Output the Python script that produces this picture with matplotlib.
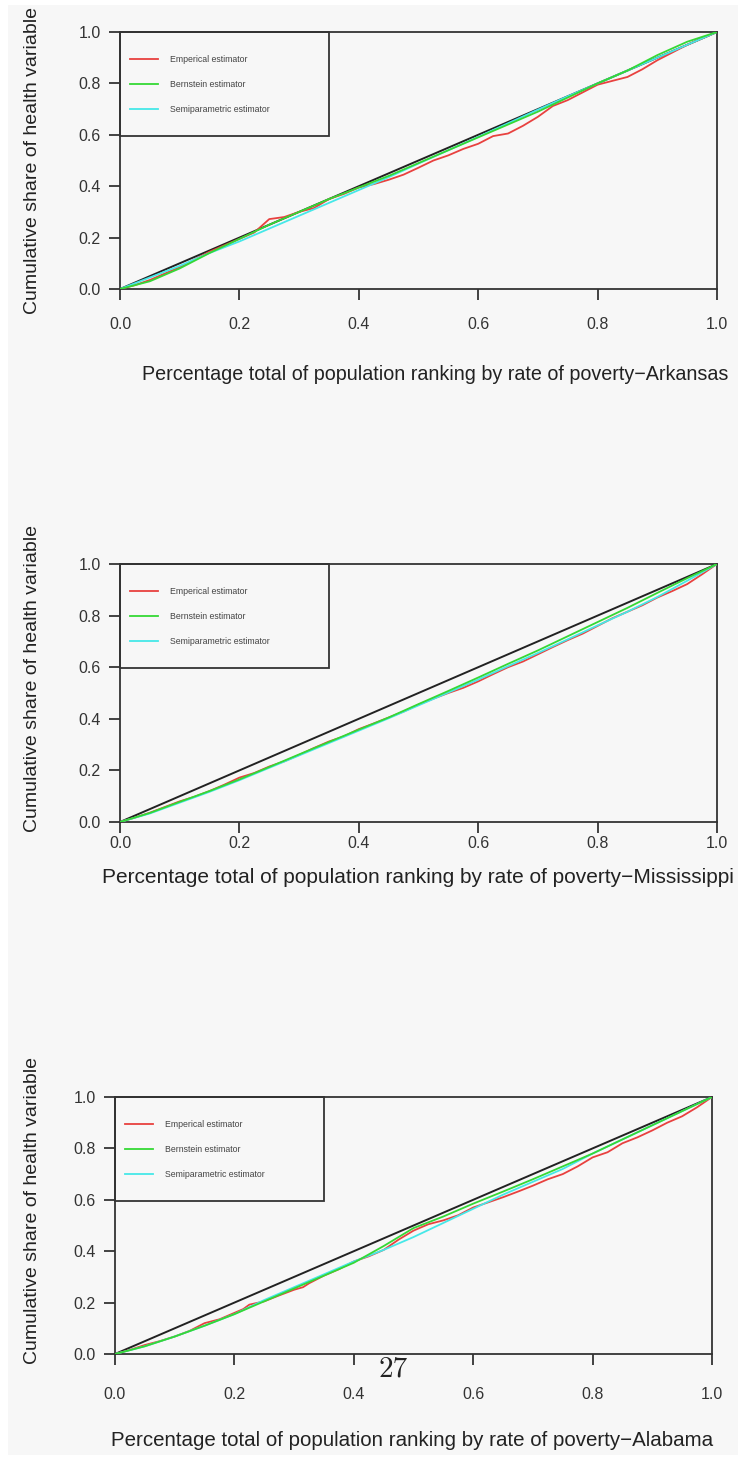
import matplotlib
matplotlib.use("Agg")
import matplotlib.pyplot as plt
from matplotlib.patches import Rectangle

plt.rcParams['font.family'] = ['Liberation Sans', 'DejaVu Sans']

# ---------------- data ----------------
x_grid = [0, 0.05, 0.1, 0.15, 0.2, 0.25, 0.3, 0.35, 0.4, 0.45, 0.5,
          0.55, 0.6, 0.65, 0.7, 0.75, 0.8, 0.85, 0.9, 0.95, 1.0]

# Arkansas
ark_emp_x = [0, 0.025, 0.05, 0.075, 0.1, 0.125, 0.15, 0.175, 0.2, 0.225, 0.25, 0.275,
             0.3, 0.325, 0.35, 0.375, 0.4, 0.425, 0.45, 0.475, 0.5, 0.525, 0.55, 0.575,
             0.6, 0.625, 0.65, 0.675, 0.7, 0.725, 0.75, 0.775, 0.8, 0.825, 0.85, 0.875,
             0.9, 0.925, 0.95, 0.975, 1.0]
ark_emp = [0, 0.015, 0.035, 0.06, 0.085, 0.115, 0.145, 0.17, 0.195, 0.22, 0.272, 0.28,
           0.3, 0.315, 0.35, 0.37, 0.395, 0.408, 0.425, 0.445, 0.472, 0.5, 0.52, 0.545,
           0.565, 0.595, 0.605, 0.635, 0.67, 0.712, 0.735, 0.765, 0.795, 0.81, 0.825, 0.855,
           0.89, 0.92, 0.95, 0.975, 1.0]
ark_bern = [0, 0.03, 0.08, 0.14, 0.195, 0.25, 0.30, 0.35, 0.395, 0.44, 0.49,
            0.54, 0.59, 0.64, 0.69, 0.745, 0.80, 0.85, 0.91, 0.962, 1.0]
ark_semi = [0, 0.045, 0.09, 0.14, 0.185, 0.235, 0.285, 0.335, 0.385, 0.435, 0.488,
            0.54, 0.592, 0.645, 0.698, 0.75, 0.80, 0.85, 0.90, 0.95, 1.0]

# Mississippi
mis_emp_x = [0, 0.025, 0.05, 0.075, 0.1, 0.125, 0.15, 0.175, 0.2, 0.225, 0.25, 0.275,
             0.3, 0.325, 0.35, 0.375, 0.4, 0.425, 0.45, 0.475, 0.5, 0.525, 0.55, 0.575,
             0.6, 0.625, 0.65, 0.675, 0.7, 0.725, 0.75, 0.775, 0.8, 0.825, 0.85, 0.875,
             0.9, 0.925, 0.95, 0.975, 1.0]
mis_emp = [0, 0.017, 0.036, 0.058, 0.08, 0.098, 0.12, 0.145, 0.172, 0.19, 0.215, 0.235,
           0.26, 0.287, 0.312, 0.332, 0.36, 0.382, 0.405, 0.428, 0.455, 0.478, 0.5, 0.52,
           0.545, 0.573, 0.6, 0.622, 0.65, 0.678, 0.705, 0.73, 0.76, 0.79, 0.815, 0.84,
           0.87, 0.895, 0.922, 0.96, 1.0]
mis_bern = [0, 0.035, 0.078, 0.12, 0.165, 0.213, 0.262, 0.31, 0.358, 0.405, 0.457,
            0.508, 0.56, 0.613, 0.665, 0.72, 0.775, 0.83, 0.888, 0.945, 1.0]
mis_semi = [0, 0.033, 0.075, 0.117, 0.162, 0.21, 0.258, 0.306, 0.354, 0.402, 0.452,
            0.502, 0.552, 0.604, 0.655, 0.708, 0.762, 0.815, 0.872, 0.935, 1.0]

# Alabama
ala_emp_x = [0, 0.025, 0.05, 0.075, 0.1, 0.125, 0.15, 0.175, 0.2, 0.215, 0.225, 0.25, 0.275,
             0.3, 0.315, 0.325, 0.35, 0.375, 0.4, 0.425, 0.45, 0.475, 0.5, 0.525, 0.55, 0.575,
             0.6, 0.625, 0.65, 0.675, 0.7, 0.725, 0.75, 0.775, 0.8, 0.825, 0.85, 0.875,
             0.9, 0.925, 0.95, 0.975, 1.0]
ala_emp = [0, 0.016, 0.035, 0.05, 0.068, 0.09, 0.12, 0.135, 0.16, 0.175, 0.192, 0.205, 0.228,
           0.25, 0.26, 0.275, 0.305, 0.33, 0.36, 0.38, 0.405, 0.445, 0.48, 0.505, 0.52, 0.54,
           0.57, 0.59, 0.61, 0.632, 0.655, 0.68, 0.70, 0.73, 0.765, 0.785, 0.82, 0.843,
           0.87, 0.9, 0.925, 0.96, 1.0]
ala_bern = [0, 0.03, 0.068, 0.11, 0.155, 0.205, 0.255, 0.305, 0.355, 0.42, 0.49,
            0.535, 0.585, 0.632, 0.68, 0.73, 0.78, 0.835, 0.89, 0.945, 1.0]
ala_semi = [0, 0.03, 0.068, 0.11, 0.155, 0.21, 0.26, 0.31, 0.36, 0.405, 0.455,
            0.51, 0.565, 0.62, 0.67, 0.72, 0.78, 0.835, 0.89, 0.945, 1.0]

equality = [0, 1]
ticks = [0.0, 0.2, 0.4, 0.6, 0.8, 1.0]
tick_labels = ["0.0", "0.2", "0.4", "0.6", "0.8", "1.0"]
legend_labels = ["Emperical estimator", "Bernstein estimator", "Semiparametric estimator"]
ylabel = "Cumulative share of health variable"
xlabels = ["Percentage total of population ranking by rate of poverty\u2212Arkansas",
           "Percentage total of population ranking by rate of poverty\u2212Mississippi",
           "Percentage total of population ranking by rate of poverty\u2212Alabama"]

panels = [
    (ark_emp_x, ark_emp, ark_bern, ark_semi),
    (mis_emp_x, mis_emp, mis_bern, mis_semi),
    (ala_emp_x, ala_emp, ala_bern, ala_semi),
]

# ---------------- layout ----------------
W, H = 738, 1462
fig = plt.figure(figsize=(W / 100, H / 100), dpi=100)
fig.patch.set_facecolor('white')
fig.patches.append(Rectangle((8 / W, 7 / H), 1 - 8 / W, 1 - 12 / H, transform=fig.transFigure,
                             facecolor='#f7f7f7', edgecolor='none', zorder=-10))

# axes boxes in pixel coordinates (left, top, right, bottom)
boxes = [(120, 32, 717, 289), (120, 564, 717, 822), (115, 1097, 712, 1354)]
xtick_pads = [12.5, 2.0, 15.5]
xlabel_x = [435, 418, 412]
xlabel_y = [375, 878, 1440]
xlabel_size = [14.2, 15.0, 14.8]
ylab_center = [160, 679, 1211]

C_RED, C_GREEN, C_CYAN = '#e8413f', '#35d835', '#45e8e8'
C_AX = '#333333'

for i, (l, t, r, b) in enumerate(boxes):
    ax = fig.add_axes([l / W, 1 - b / H, (r - l) / W, (b - t) / H])
    ax.set_facecolor('none')
    ex, emp, bern, semi = panels[i]
    ax.plot(equality, equality, color='#222222', lw=1.4, zorder=3)
    h1, = ax.plot(ex, emp, color=C_RED, lw=1.3, zorder=4)
    h2, = ax.plot(x_grid, bern, color=C_GREEN, lw=1.3, zorder=5)
    h3, = ax.plot(x_grid, semi, color=C_CYAN, lw=1.3, zorder=4)
    ax.set_xlim(0, 1)
    ax.set_ylim(0, 1)
    ax.set_xticks(ticks)
    ax.set_xticklabels(tick_labels)
    ax.set_yticks(ticks)
    ax.set_yticklabels(tick_labels)
    for s in ax.spines.values():
        s.set_color(C_AX)
        s.set_linewidth(1.3)
    ax.tick_params(axis='both', direction='out', length=8, width=1.3, color=C_AX,
                   labelcolor='#333333', labelsize=11.5)
    ax.tick_params(axis='x', pad=xtick_pads[i])
    ax.tick_params(axis='y', pad=6)

    # legend box
    ax.add_patch(Rectangle((0, 0.595), 0.35, 0.405, transform=ax.transAxes,
                           facecolor='none', edgecolor=C_AX, lw=1.3, zorder=6, clip_on=False))
    ax.legend([h1, h2, h3], legend_labels, loc='upper left',
              bbox_to_anchor=(0.016, 0.912), frameon=False, fontsize=6.3,
              handlelength=3.2, handletextpad=1.4, labelspacing=1.85,
              borderpad=0, borderaxespad=0, labelcolor='#444444')

    fig.text(xlabel_x[i] / W, 1 - xlabel_y[i] / H,
             xlabels[i], ha='center', va='center', fontsize=xlabel_size[i], color='#222222')
    fig.text(33 / W, 1 - ylab_center[i] / H, ylabel, rotation=90, ha='center',
             va='center', fontsize=14, color='#222222')

# page number
fig.text(393 / W, 1 - 1369 / H, "27", family='cmr10', fontsize=21,
         ha='center', va='center', color='#222222')

fig.savefig('out.png', dpi=100, facecolor=fig.get_facecolor())
